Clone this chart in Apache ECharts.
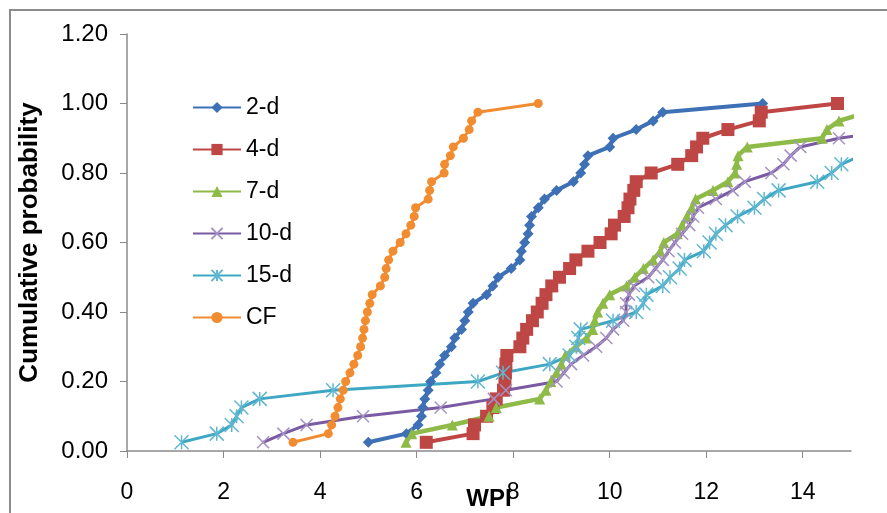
<!DOCTYPE html>
<html>
<head>
<meta charset="utf-8">
<script src="https://cdn.jsdelivr.net/npm/echarts@6/dist/echarts.min.js"></script>
<style>
  html, body { margin: 0; padding: 0; background: #fff; }
  #chart { width: 887px; height: 513px; }
</style>
</head>
<body>
<div id="chart"></div>
<script>
// Cumulative probability levels shared by every curve
const probability = [0.025, 0.05, 0.075, 0.1, 0.125, 0.15, 0.175, 0.2, 0.225, 0.25,
  0.275, 0.3, 0.325, 0.35, 0.375, 0.4, 0.425, 0.45, 0.475, 0.5,
  0.525, 0.55, 0.575, 0.6, 0.625, 0.65, 0.675, 0.7, 0.725, 0.75,
  0.775, 0.8, 0.825, 0.85, 0.875, 0.9, 0.925, 0.95, 0.975, 1.0];

// WPI values (sorted) for each forecast horizon
const wpi2d = [5.00, 5.79, 6.03, 6.10, 6.13, 6.17, 6.24, 6.29, 6.40, 6.48,
  6.58, 6.72, 6.79, 6.93, 7.00, 7.07, 7.17, 7.45, 7.58, 7.69,
  7.96, 8.14, 8.17, 8.24, 8.31, 8.34, 8.38, 8.52, 8.65, 8.90,
  9.25, 9.40, 9.48, 9.55, 10.00, 10.07, 10.55, 10.90, 11.10, 13.17];

const wpi4d = [6.20, 7.17, 7.20, 7.45, 7.58, 7.65, 7.80, 7.83, 7.84, 7.85,
  7.87, 8.14, 8.20, 8.28, 8.40, 8.50, 8.60, 8.68, 8.80, 8.96,
  9.17, 9.30, 9.55, 9.80, 10.03, 10.10, 10.30, 10.38, 10.42, 10.50,
  10.55, 10.86, 11.41, 11.70, 11.80, 11.93, 12.45, 13.10, 13.14, 14.72];

const wpi7d = [5.78, 5.90, 6.74, 7.50, 7.65, 8.55, 8.68, 8.78, 8.90, 9.00,
  9.08, 9.30, 9.52, 9.65, 9.69, 9.75, 9.86, 10.00, 10.35, 10.52,
  10.70, 10.90, 11.05, 11.12, 11.40, 11.50, 11.60, 11.70, 11.78, 12.14,
  12.45, 12.60, 12.63, 12.66, 12.85, 14.40, 14.50, 14.75, 15.35];

const wpi10d = [2.82, 3.24, 3.72, 4.89, 6.50, 7.60, 7.85, 8.90, 9.05, 9.20,
  9.45, 9.72, 9.93, 10.07, 10.28, 10.34, 10.34, 10.40, 10.50, 10.80,
  10.95, 11.10, 11.22, 11.35, 11.50, 11.65, 11.73, 11.83, 12.20, 12.55,
  12.80, 13.35, 13.60, 13.75, 13.95, 14.75, 16.00];

const wpi15d = [1.13, 1.86, 2.17, 2.27, 2.37, 2.75, 4.27, 7.27, 7.79, 8.76,
  9.17, 9.31, 9.35, 9.40, 10.07, 10.55, 10.70, 10.76, 11.10, 11.25,
  11.45, 11.55, 11.95, 12.07, 12.20, 12.40, 12.65, 13.00, 13.20, 13.50,
  14.30, 14.60, 14.80, 15.20];

const wpiCF = [3.44, 4.17, 4.24, 4.31, 4.37, 4.42, 4.48, 4.53, 4.62, 4.70,
  4.78, 4.84, 4.88, 4.91, 4.94, 4.98, 5.03, 5.08, 5.25, 5.34,
  5.37, 5.42, 5.51, 5.66, 5.78, 5.88, 5.95, 5.98, 6.24, 6.27,
  6.31, 6.57, 6.58, 6.70, 6.76, 6.97, 7.09, 7.14, 7.27, 8.52];

const seriesNames = ['2-d', '4-d', '7-d', '10-d', '15-d', 'CF'];
const xTickValues = [0, 2, 4, 6, 8, 10, 12, 14];
const yTickValues = [0, 0.2, 0.4, 0.6, 0.8, 1.0, 1.2];

function pairs(xs) {
  return xs.map((x, i) => [x, probability[i]]);
}

const FONT = '"Liberation Sans", Arial, sans-serif';
const crossPath = 'path://M0,0L10,10M10,0L0,10';
const starPath = 'path://M5,0L5,10M0,0L10,10M10,0L0,10';

const chart = echarts.init(document.getElementById('chart'), null, { renderer: 'canvas' });

function lineSeries(name, xs, color, width, symbol, size, itemStyle) {
  return {
    name: name,
    type: 'line',
    data: pairs(xs),
    symbol: symbol,
    symbolSize: size,
    showAllSymbol: true,
    clip: true,
    lineStyle: { color: color, width: width },
    itemStyle: itemStyle || { color: color },
    emphasis: { disabled: true }
  };
}

chart.setOption({
  animation: false,
  backgroundColor: '#ffffff',
  grid: {
    left: 127, right: 36, top: 34, bottom: 62,
    containLabel: false,
    outerBoundsMode: 'none'
  },
  graphic: [{
    type: 'rect',
    shape: { x: 10, y: 10, width: 900, height: 520 },
    style: { fill: 'none', stroke: '#8c8c8c', lineWidth: 2 },
    silent: true
  }],
  legend: {
    orient: 'vertical',
    left: 187,
    top: 91,
    itemWidth: 48,
    itemHeight: 14,
    itemGap: 19,
    data: seriesNames,
    textStyle: { fontFamily: FONT, fontSize: 23, color: '#000', lineHeight: 23 }
  },
  xAxis: {
    type: 'value',
    min: 0,
    max: 15,
    interval: 2,
    name: 'WPI',
    nameLocation: 'middle',
    nameGap: 36,
    nameMoveOverlap: false,
    nameTextStyle: { fontFamily: FONT, fontSize: 24, fontWeight: 'bold', color: '#000' },
    splitLine: { show: false },
    axisLine: { lineStyle: { color: '#8a8a8a', width: 1.5 } },
    axisTick: { show: true, length: 7, lineStyle: { color: '#8a8a8a' }, customValues: xTickValues },
    axisLabel: { fontFamily: FONT, fontSize: 23, color: '#000', margin: 30, customValues: xTickValues }
  },
  yAxis: {
    type: 'value',
    min: 0,
    max: 1.2,
    interval: 0.2,
    name: 'Cumulative probability',
    nameLocation: 'middle',
    nameRotate: 90,
    nameGap: 84,
    nameMoveOverlap: false,
    nameTextStyle: { fontFamily: FONT, fontSize: 26, fontWeight: 'bold', color: '#000' },
    splitLine: { show: false },
    axisLine: { show: true, lineStyle: { color: '#8a8a8a', width: 1.5 } },
    axisTick: { show: true, length: 7, lineStyle: { color: '#8a8a8a' }, customValues: yTickValues },
    axisLabel: {
      fontFamily: FONT, fontSize: 24, color: '#000', margin: 19,
      customValues: yTickValues,
      formatter: v => v.toFixed(2)
    }
  },
  series: [
    lineSeries('2-d', wpi2d, '#3E70B6', 4, 'diamond', 11),
    lineSeries('4-d', wpi4d, '#BE4644', 4, 'rect', 13),
    lineSeries('7-d', wpi7d, '#8EBA48', 4.5, 'triangle', 11),
    lineSeries('10-d', wpi10d, '#7A5AA3', 3, crossPath, 12,
      { color: 'none', borderColor: '#A592C4', borderWidth: 1.5 }),
    lineSeries('15-d', wpi15d, '#3EA7C3', 3, starPath, 14,
      { color: 'none', borderColor: '#62B7D0', borderWidth: 1.5 }),
    lineSeries('CF', wpiCF, '#F28C30', 3, 'circle', 9)
  ]
});
</script>
</body>
</html>
